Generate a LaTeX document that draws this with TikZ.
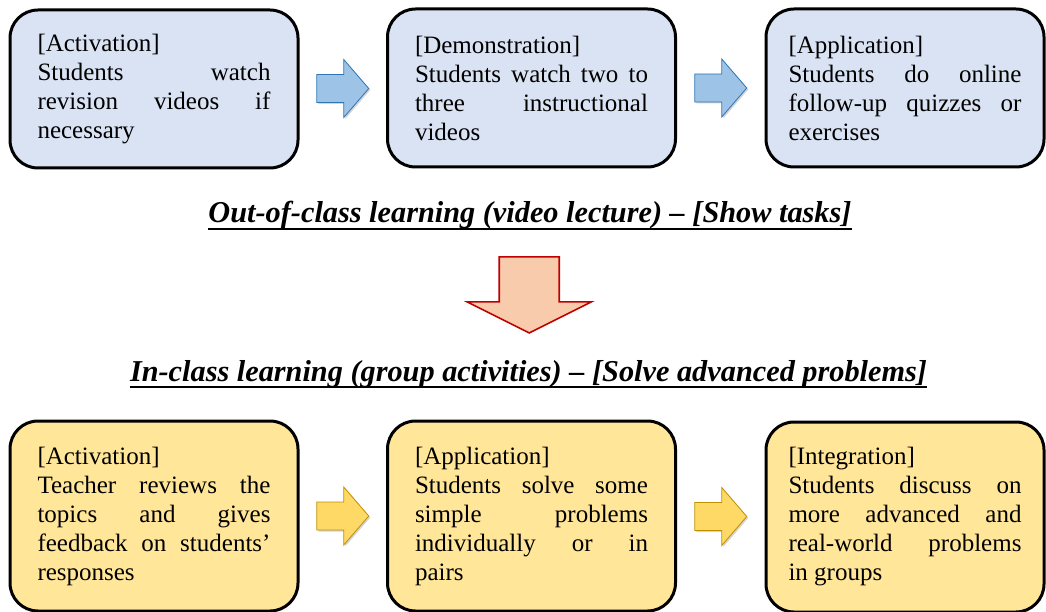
\documentclass[tikz,border=0pt]{standalone}
\usepackage{fontspec}
\setmainfont{Liberation Serif}
\usepackage{tikz}
\usetikzlibrary{calc,shadows}

\definecolor{boxblue}{HTML}{DAE3F3}
\definecolor{boxgold}{HTML}{FFE699}
\definecolor{arrowblue}{HTML}{9DC3E6}
\definecolor{edgeblue}{HTML}{2E75B6}
\definecolor{arrowgold}{HTML}{FFD966}
\definecolor{edgegold}{HTML}{BF9000}
\definecolor{arrowpeach}{HTML}{F8CBAD}
\definecolor{edgered}{HTML}{C00000}

\newcommand{\ulphase}[1]{\leavevmode\setbox0=\hbox{#1}%
  \rlap{\rule[-7pt]{\wd0}{2.4pt}}\box0}

\tikzset{
  stage/.style={draw,line width=3pt,rounded corners=28pt,text width=233pt,
    align=justify,inner xsep=27.5pt,inner ysep=0pt,
    font=\fontsize{25}{29}\selectfont},
  outbox/.style={stage,fill=boxblue,minimum height=158pt},
  inbox/.style={stage,fill=boxgold,minimum height=190pt},
  lastbox/.style={inner xsep=22.5pt},
  phase/.style={anchor=base,inner sep=0pt,
    font=\fontsize{30.3}{36}\selectfont\bfseries\itshape},
  bluearrow/.style={fill=arrowblue,draw=edgeblue,line width=0.8pt,
    drop shadow={shadow xshift=1.5pt,shadow yshift=-1.5pt,opacity=.35}},
  goldarrow/.style={fill=arrowgold,draw=edgegold,line width=0.8pt,
    drop shadow={shadow xshift=1.5pt,shadow yshift=-1.5pt,opacity=.35}},
  redarrow/.style={fill=arrowpeach,draw=edgered,line width=1.6pt}
}

\begin{document}
\begin{tikzpicture}[x=1pt,y=-1pt]
  \useasboundingbox (0,0) rectangle (1046,612);
  \clip (0,0) rectangle (1046,612);

  % out-of-class row
  \node[outbox] (act) at (154,89)
    {[Activation]\\ Students watch\linebreak revision videos if\linebreak necessary};
  \node[outbox] (dem) at (531.5,88)
    {[Demonstration]\\ Students watch two to\linebreak three instructional\linebreak videos};
  \node[outbox,lastbox] (app) at (905,88)
    {[Application]\\ Students do online\linebreak follow-up quizzes or\linebreak exercises};

  % in-class row
  \node[inbox] (act2) at (154,516)
    {[Activation]\\ Teacher reviews the\linebreak topics and gives\linebreak feedback on students’\linebreak responses};
  \node[inbox] (app2) at (531.5,516)
    {[Application]\\ Students solve some\linebreak simple problems\linebreak individually or in\linebreak pairs};
  \node[inbox,lastbox] (int) at (905,517)
    {[Integration]\\ Students discuss on\linebreak more advanced and\linebreak real-world problems\linebreak in groups};

  \node[phase] (out) at (530,223)
    {\ulphase{Out-of-class learning (video lecture) – [Show tasks]}};
  \node[phase] (in) at (528.5,381)
    {\ulphase{In-class learning (group activities) – [Solve advanced problems]}};

  \foreach \a/\b/\s in {act/dem/bluearrow,dem/app/bluearrow,act2/app2/goldarrow,app2/int/goldarrow}
    \draw[\s] ($(\a.east)!0.5!(\b.west)$) ++(-26,-14) -- ++(27,0) -- ++(0,-15)
      -- ++(25,29) -- ++(-25,29) -- ++(0,-15) -- ++(-27,0) -- cycle;

  \draw[redarrow] ($(out)!0.5!(in)$) ++(-30,-38) -- ++(60,0) -- ++(0,45)
    -- ++(32,0) -- ++(-62,31) -- ++(-62,-31) -- ++(32,0) -- cycle;
\end{tikzpicture}
\end{document}
